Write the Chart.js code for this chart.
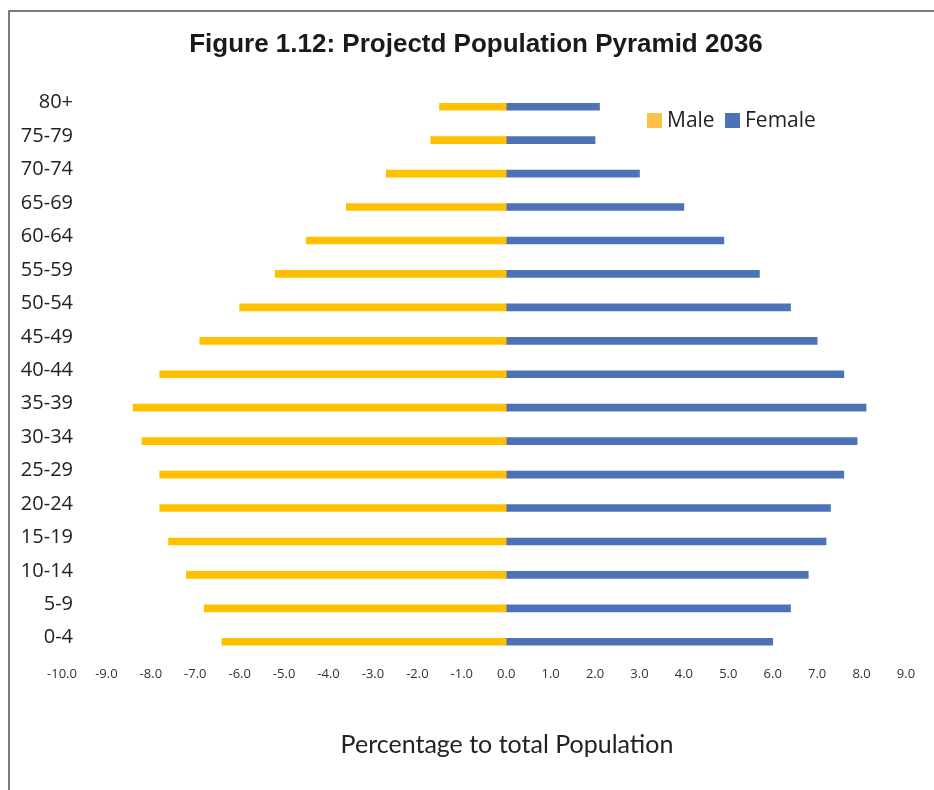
<!DOCTYPE html>
<html>
<head>
<meta charset="utf-8">
<script src="https://cdn.jsdelivr.net/npm/chart.js@4.4.1/dist/chart.umd.min.js"></script>
<style>
  html, body { margin: 0; padding: 0; background: #fff; overflow: hidden; }
  #frame {
    position: absolute; left: 8px; top: 10px; width: 2000px; height: 2000px;
    border-left: 2px solid #7a7a7a; border-top: 2px solid #7a7a7a;
  }
  #wrap { position: absolute; left: 0; top: 0; width: 934px; height: 790px; }
</style>
</head>
<body>
<div id="frame"></div>
<div id="wrap"><canvas id="chart"></canvas></div>
<script>
const ageGroups = ['0-4', '5-9', '10-14', '15-19', '20-24', '25-29', '30-34', '35-39',
  '40-44', '45-49', '50-54', '55-59', '60-64', '65-69', '70-74', '75-79', '80+'];
const male = [-6.4, -6.8, -7.2, -7.6, -7.8, -7.8, -8.2, -8.4,
  -7.8, -6.9, -6.0, -5.2, -4.5, -3.6, -2.7, -1.7, -1.5];
const female = [6.0, 6.4, 6.8, 7.2, 7.3, 7.6, 7.9, 8.1,
  7.6, 7.0, 6.4, 5.7, 4.9, 4.0, 3.0, 2.0, 2.1];
const xMin = -10;
const xMax = 9;

const titleText = 'Figure 1.12: Projectd Population Pyramid 2036';
const xTitleText = 'Percentage to total Population';

const maleColor = '#FFC000';
const femaleColor = '#4E72B8';

const yFont = '20px "Open Sans"';

// the age labels stick out a bit past the plot's left edge, so they are
// mirrored (no clipping) and pulled back with a negative padding
const measureCtx = document.createElement('canvas').getContext('2d');
measureCtx.font = yFont;
const widestLabel = Math.max(...ageGroups.map(l => measureCtx.measureText(l).width));

// title, axis title and legend are drawn here so they can sit off-centre like the excel original
const textPlugin = {
  id: 'excelText',
  afterDraw(chart) {
    const ctx = chart.ctx;
    ctx.save();
    ctx.textBaseline = 'middle';
    ctx.textAlign = 'center';
    ctx.fillStyle = '#1a1a1a';
    ctx.font = 'bold 26px "Liberation Sans", Arial, sans-serif';
    ctx.fillText(titleText, 476, 45);

    ctx.fillStyle = '#222';
    ctx.font = '25px Lato';
    ctx.fillText(xTitleText, 507, 745);

    const items = [
      { text: chart.data.datasets[0].label, color: '#FFC04A', x: 647 },
      { text: chart.data.datasets[1].label, color: femaleColor, x: 725 }
    ];
    ctx.textAlign = 'left';
    ctx.font = '21px "Open Sans"';
    items.forEach(it => {
      ctx.fillStyle = it.color;
      ctx.fillRect(it.x, 113, 15, 15);
      ctx.fillStyle = '#222';
      ctx.fillText(it.text, it.x + 20, 121);
    });
    ctx.restore();
  }
};

new Chart(document.getElementById('chart'), {
  type: 'bar',
  data: {
    labels: ageGroups,
    datasets: [
      { label: 'Male', data: male, backgroundColor: maleColor, barThickness: 7 },
      { label: 'Female', data: female, backgroundColor: femaleColor, barThickness: 7 }
    ]
  },
  options: {
    indexAxis: 'y',
    responsive: true,
    maintainAspectRatio: false,
    animation: false,
    layout: { padding: { left: 0, right: 28, top: 90, bottom: 0 } },
    plugins: {
      legend: { display: false },
      tooltip: { enabled: false },
      title: { display: false }
    },
    scales: {
      x: {
        type: 'linear',
        stacked: true,
        min: xMin,
        max: xMax,
        grid: { display: false, drawTicks: false },
        border: { display: false },
        ticks: {
          stepSize: 1,
          padding: 8,
          color: '#333',
          font: { family: '"Open Sans"', size: 13 },
          callback: v => v.toFixed(1)
        },
        afterFit: s => { s.height = 131.5; }
      },
      y: {
        stacked: true,
        reverse: true,
        grid: { display: false, drawTicks: false },
        border: { display: false },
        ticks: {
          mirror: true,
          crossAlign: 'far',
          padding: 11 - widestLabel,
          labelOffset: -4,
          color: '#222',
          font: { family: '"Open Sans"', size: 20 }
        },
        afterFit: s => { s.width = 62; }
      }
    }
  },
  plugins: [textPlugin]
});
</script>
</body>
</html>
